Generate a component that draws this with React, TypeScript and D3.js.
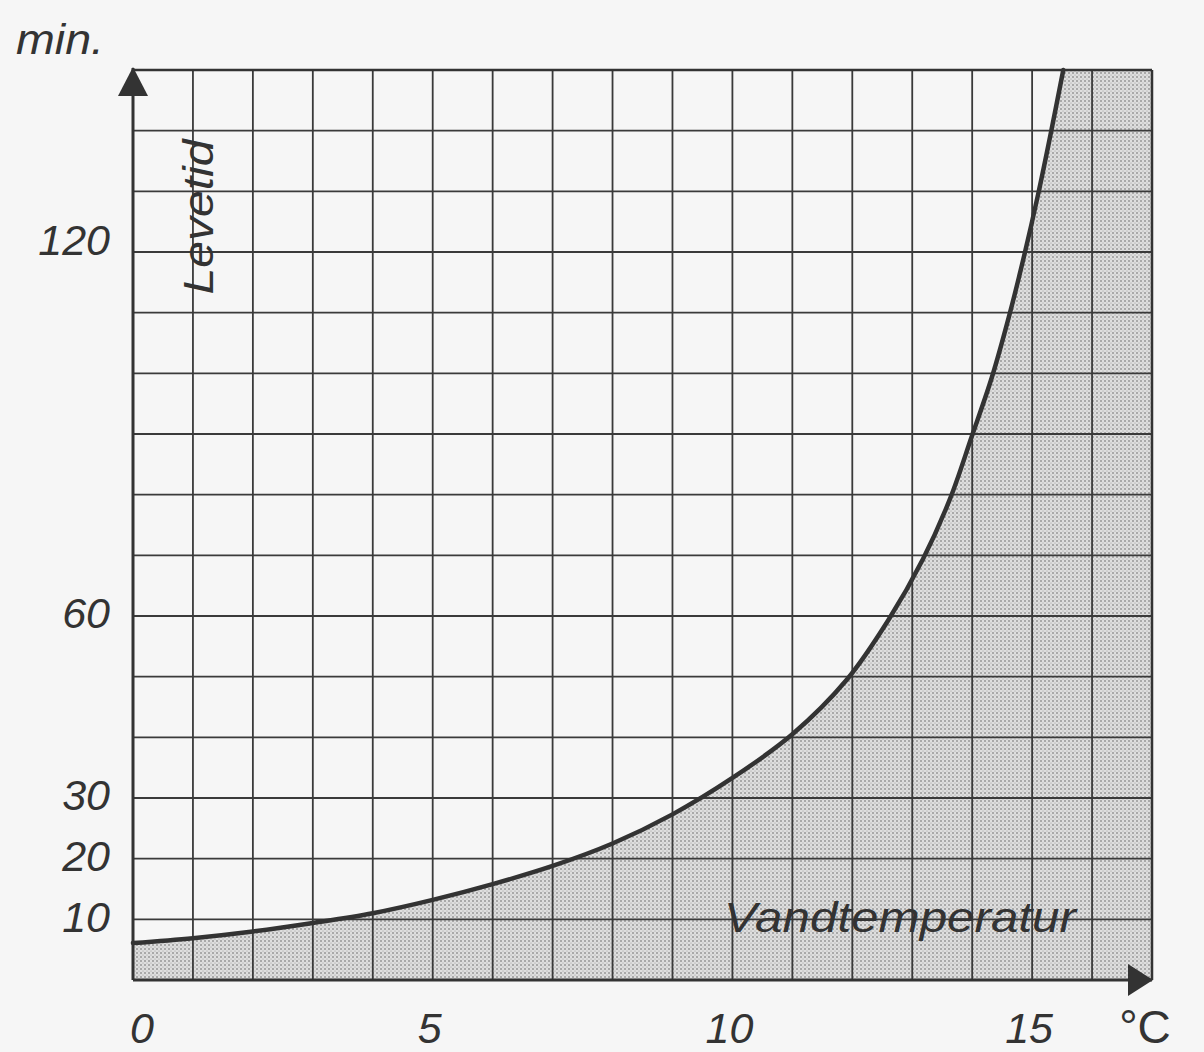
import React from "react";
import * as d3 from "d3";

// water temperature (°C) vs survival time (min.)
const temps = [0, 1, 2, 3, 4, 5, 6, 7, 8, 9, 10, 11, 11.9, 12.6, 13.18, 13.63, 13.99, 14.33, 14.62, 14.87, 15.1, 15.31, 15.52];
const minutes = [6.1, 6.9, 8.0, 9.4, 11.0, 13.2, 15.8, 18.8, 22.5, 27.3, 33.3, 40.5, 49.4, 59.3, 69.4, 79.3, 89.5, 99.4, 109.6, 119.5, 129.5, 139.5, 150];

const xTickLabels = [0, 5, 10, 15];
const yTickLabels = [10, 20, 30, 60, 120];
const xGrid = d3.range(0, 18, 1);
const yGrid = d3.range(0, 151, 10);

const W = 1204;
const H = 1052;

const App = () => {
  const x = d3.scaleLinear().domain([0, 17]).range([133, 1152]);
  const y = d3.scaleLinear().domain([0, 150]).range([980, 70]);

  const pts: [number, number][] = temps.map((t, i) => [t, minutes[i]]);

  const line = d3
    .line<[number, number]>()
    .x((d) => x(d[0]))
    .y((d) => y(d[1]))
    .curve(d3.curveCatmullRom.alpha(0.5));

  // area under the curve, closed along the right edge and the x-axis
  const curvePath = line(pts) || "";
  const last = pts[pts.length - 1];
  const areaPath =
    curvePath +
    `L${x(17)},${y(last[1])}L${x(17)},${y(0)}L${x(0)},${y(0)}Z`;

  const font = "'Liberation Sans', Arial, sans-serif";
  const ink = "#333";

  return (
    <svg
      width={W}
      height={H}
      style={{ position: "absolute", left: 0, top: 0, background: "#f6f6f6" }}
    >
      <defs>
        <pattern id="dots" width="4" height="4" patternUnits="userSpaceOnUse">
          <rect width="4" height="4" fill="#dedede" />
          <circle cx="1" cy="1" r="0.8" fill="#666" />
          <circle cx="3" cy="3" r="0.6" fill="#9a9a9a" />
        </pattern>
      </defs>

      {/* stippled area below curve */}
      <path d={areaPath} fill="url(#dots)" stroke="none" />

      {/* grid */}
      {xGrid.map((t) => (
        <line key={"gx" + t} x1={x(t)} x2={x(t)} y1={y(0)} y2={y(150)} stroke="#3a3a3a" strokeWidth={1.8} />
      ))}
      {yGrid.map((v) => (
        <line key={"gy" + v} x1={x(0)} x2={x(17)} y1={y(v)} y2={y(v)} stroke="#3a3a3a" strokeWidth={1.8} />
      ))}

      {/* axes */}
      <line x1={x(0)} x2={x(0)} y1={y(0)} y2={y(150) - 2} stroke={ink} strokeWidth={3} />
      <line x1={x(0)} x2={x(17)} y1={y(0)} y2={y(0)} stroke={ink} strokeWidth={3} />
      <line x1={x(0)} x2={x(17)} y1={y(150)} y2={y(150)} stroke={ink} strokeWidth={2.5} />
      <line x1={x(17)} x2={x(17)} y1={y(0)} y2={y(150)} stroke={ink} strokeWidth={2.5} />
      <path
        d={`M${x(0)},${y(150) - 3}L${x(0) - 15},${y(150) + 26}L${x(0) + 15},${y(150) + 26}Z`}
        fill={ink}
      />
      <path
        d={`M${x(17) + 1},${y(0)}L${x(17) - 24},${y(0) - 16}L${x(17) - 24},${y(0) + 16}Z`}
        fill={ink}
      />

      {/* curve */}
      <path d={curvePath} fill="none" stroke={ink} strokeWidth={4.5} strokeLinecap="round" />

      {/* labels */}
      <g fontFamily={font} fontStyle="italic" fill={ink} fontSize={43}>
        <text x={16} y={54} textLength={88} lengthAdjust="spacingAndGlyphs">min.</text>
        {yTickLabels.map((v) => (
          <text key={"yl" + v} x={110} y={y(v) - (v >= 120 ? 12 : 3)} dy="0.36em" textAnchor="end">
            {v}
          </text>
        ))}
        {xTickLabels.map((t) => (
          <text key={"xl" + t} x={x(t) + (t === 0 ? 9 : -3)} y={1043} textAnchor="middle">
            {t}
          </text>
        ))}
        <text x={1145} y={1043} textAnchor="middle" fontStyle="normal" fontSize={46}>°C</text>
        <text
          transform={`translate(213,217) rotate(-90)`}
          textAnchor="middle"
          textLength={155}
          lengthAdjust="spacingAndGlyphs"
        >
          Levetid
        </text>
        <text x={724} y={932} textLength={352} lengthAdjust="spacingAndGlyphs">
          Vandtemperatur
        </text>
      </g>
    </svg>
  );
};

export default App;
